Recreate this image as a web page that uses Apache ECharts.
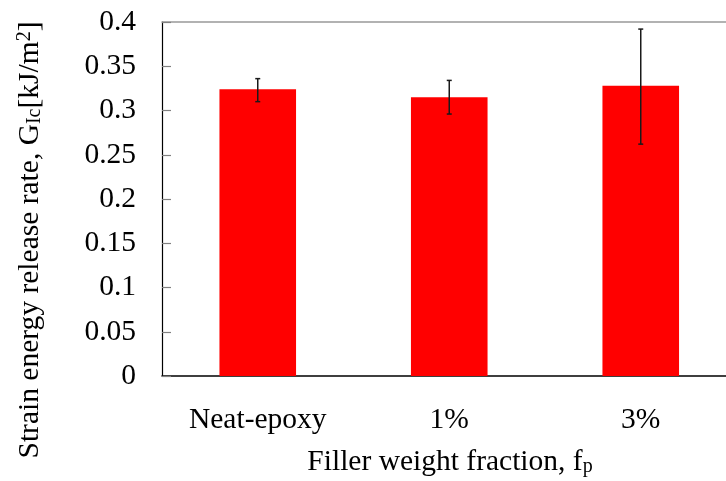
<!DOCTYPE html>
<html>
<head>
<meta charset="utf-8">
<script src="https://cdn.jsdelivr.net/npm/echarts@6/dist/echarts.min.js"></script>
<style>
  html, body { margin: 0; padding: 0; background: #fff; }
  #chart { width: 726px; height: 481px; }
</style>
</head>
<body>
<div id="chart"></div>
<script>
// fracture toughness by filler content
const categories = ['Neat-epoxy', '1%', '3%']
const gicMean = [0.324, 0.315, 0.328]
const gicLow = [0.310, 0.296, 0.262]
const gicHigh = [0.336, 0.334, 0.392]
const yTicks = { min: 0, max: 0.4, interval: 0.05 }

const serif = '"Liberation Serif", "Times New Roman", serif'
const fs = 29.5

const chart = echarts.init(document.getElementById('chart'), null, { renderer: 'canvas' })

const errData = categories.map((c, i) => [i, gicLow[i], gicHigh[i]])

chart.setOption({
  animation: false,
  backgroundColor: '#fff',
  grid: {
    left: 162,
    top: 22,
    right: -10.5,
    height: 354,
    outerBoundsMode: 'none'
  },
  xAxis: [{
    type: 'category',
    data: categories,
    axisLine: { lineStyle: { color: '#000', width: 1.5 } },
    axisTick: { inside: true, length: 9, lineStyle: { color: '#808080', width: 1 } },
    axisLabel: { color: '#000', fontFamily: serif, fontSize: fs, margin: 29 }
  }, {
    type: 'category',
    data: categories,
    position: 'top',
    axisLine: { lineStyle: { color: '#999', width: 1.5 } },
    axisTick: { show: false },
    axisLabel: { show: false }
  }],
  yAxis: {
    type: 'value',
    min: yTicks.min,
    max: yTicks.max,
    interval: yTicks.interval,
    splitLine: { show: false },
    axisLine: { show: true, lineStyle: { color: '#000', width: 1.2 } },
    axisTick: { show: true, inside: true, length: 9, lineStyle: { color: '#808080', width: 1.2 } },
    axisLabel: { color: '#000', fontFamily: serif, fontSize: fs, margin: 26 }
  },
  graphic: [{
    type: 'text',
    x: 30,
    y: 240,
    rotation: Math.PI / 2,
    style: {
      text: 'Strain energy release rate, G{sub|Ic}[kJ/m{sup|2}]',
      fontFamily: serif,
      fontSize: fs,
      fill: '#000',
      align: 'center',
      verticalAlign: 'middle',
      rich: {
        sub: { fontFamily: serif, fontSize: 20, verticalAlign: 'bottom', lineHeight: 14 },
        sup: { fontFamily: serif, fontSize: 20, verticalAlign: 'top', lineHeight: 14 }
      }
    }
  }, {
    type: 'text',
    x: 450,
    y: 462,
    style: {
      text: 'Filler weight fraction, f{sub|p}',
      fontFamily: serif,
      fontSize: fs,
      fill: '#000',
      align: 'center',
      verticalAlign: 'middle',
      rich: {
        sub: { fontFamily: serif, fontSize: 20, verticalAlign: 'bottom', lineHeight: 14 }
      }
    }
  }],
  series: [{
    type: 'bar',
    data: gicMean,
    barWidth: '40%',
    itemStyle: { color: '#ff0000' }
  }, {
    type: 'custom',
    data: errData,
    z: 10,
    renderItem (params, api) {
      const lo = api.coord([api.value(0), api.value(1)])
      const hi = api.coord([api.value(0), api.value(2)])
      const cap = 2.5
      const style = { stroke: '#1a1a1a', lineWidth: 1.5 }
      return {
        type: 'group',
        children: [
          { type: 'line', shape: { x1: lo[0], y1: lo[1], x2: hi[0], y2: hi[1] }, style },
          { type: 'line', shape: { x1: lo[0] - cap, y1: lo[1], x2: lo[0] + cap, y2: lo[1] }, style },
          { type: 'line', shape: { x1: hi[0] - cap, y1: hi[1], x2: hi[0] + cap, y2: hi[1] }, style }
        ]
      }
    }
  }]
})
</script>
</body>
</html>
